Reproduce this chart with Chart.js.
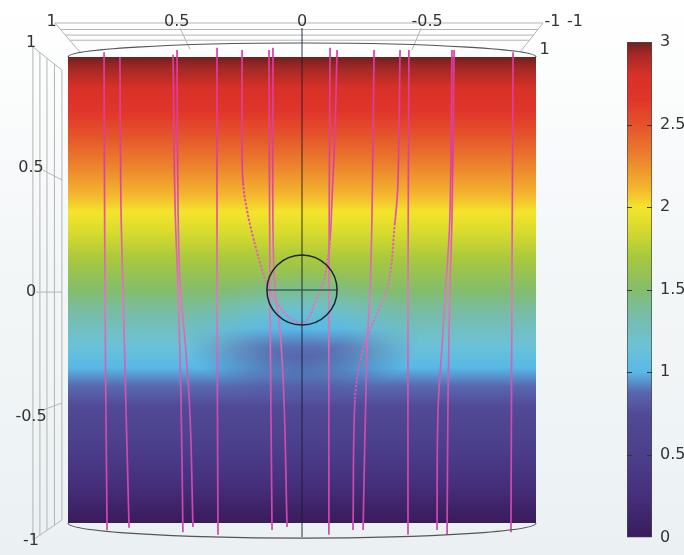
<!DOCTYPE html>
<html>
<head>
<meta charset="utf-8">
<script src="https://cdn.jsdelivr.net/npm/chart.js@4.4.1/dist/chart.umd.min.js"></script>
<style>
  html, body { margin: 0; padding: 0; }
  body {
    width: 684px; height: 555px; position: relative; overflow: hidden;
    background: linear-gradient(180deg, #ffffff 0%, #f4f7f8 45%, #ebf1f3 100%);
  }
  #main { position: absolute; left: 0; top: 0; }
  #bar { position: absolute; left: 600px; top: 0; }
</style>
</head>
<body>
<canvas id="main" width="684" height="555"></canvas>
<canvas id="bar" width="84" height="555"></canvas>
<script>
// ---- colour scale (value -> colour) ----
const scaleValues = [0, 0.25, 0.5, 0.75, 0.88, 1.0, 1.15, 1.35, 1.5, 1.7, 1.88, 2.0, 2.12, 2.3, 2.5, 2.65, 2.8, 2.92, 3.0];
const scaleColors = ['#3a1b5c', '#452f7c', '#4b3f8b', '#514a96', '#5868b0', '#58b8e6', '#6cc2d6', '#78bca8',
                     '#84bd6c', '#a9c83c', '#dadc2c', '#f4e42c', '#f3b42e', '#ec822e', '#e5522b', '#e0352a',
                     '#d73128', '#a82826', '#6e2220'];
const colorbarTicks = [0, 0.5, 1, 1.5, 2, 2.5, 3];

// value on the slice: bottom (y = -1) and top (y = 1)
const faceValueBottom = 0;
const faceValueTop = 3;
// the field sags below the sphere: depth of the dip and where it sits
const dipDepth = 0.25;
const dipCenter = [0, -0.19];
const dipRadius = [0.5, 0.28];

// axis labels
const axisTicks = [1, 0.5, 0, -0.5, -1];
const depthLabels = ['-1', '1'];

// sphere
const sphereCenter = [0, 0];
const sphereRadius = 0.15;

// ---- streamlines (x, y in model units) ----
const sl01x = [0.846, 0.842, 0.833];
const sl01y = [1.02, 0, -1.03];
const sl02x = [0.778, 0.774, 0.765, 0.739];
const sl02y = [1.0, 0.386, 0, -1.02];
const sl03x = [0.551, 0.543, 0.530, 0.517, 0.509];
const sl03y = [1.01, 0.386, 0, -0.472, -1.04];
const sl04x = [0.534, 0.530, 0.521, 0.500, 0.479, 0.466];
const sl04y = [1.03, 0.386, 0.021, -0.215, -0.528, -1.017];
const sl05x = [0.363, 0.363, 0.359];
const sl05y = [1.04, 0, -1.05];
const sl06x = [0.256, 0.256, 0.252, 0.235, 0.209, 0.179, 0.150, 0.094, 0.017, -0.021, -0.056, -0.090, -0.107, -0.120, -0.128, -0.141, -0.150];
const sl06y = [1.03, 0.601, 0.459, 0.343, 0.227, 0.116, 0.030, -0.073, -0.142, -0.129, -0.052, 0.030, 0.116, 0.215, 0.386, 0.687, 1.03];
const sl07x = [0.141, 0.137, 0.128];
const sl07y = [1.03, 0, -1.03];
const sl08x = [0.124, 0.124, 0.115, 0.094, 0.077, 0.064];
const sl08y = [1.04, 0.258, 0, -0.172, -0.472, -1.017];
const sl09x = [-0.120, -0.115, -0.115];
const sl09y = [1.04, 0, -1.05];
const sl10x = [-0.308, -0.299, -0.291, -0.278, -0.261];
const sl10y = [1.03, 0.313, 0, -0.245, -1.03];
const sl11x = [-0.419, -0.410, -0.397, -0.368, -0.321, -0.278, -0.248, -0.226, -0.218];
const sl11y = [1.03, 0.459, 0.288, 0.021, -0.099, -0.202, -0.313, -0.472, -1.03];
const sl12x = [-0.457, -0.453, -0.453];
const sl12y = [1.03, 0, -1.05];
const sl13x = [-0.641, -0.632, -0.615, -0.598, -0.581, -0.577];
const sl13y = [1.03, 0.313, 0.021, -0.245, -0.528, -1.03];
const sl14x = [-0.650, -0.641, -0.632, -0.624, -0.620];
const sl14y = [1.03, 0.313, 0, -0.472, -1.05];
const sl15x = [-0.902, -0.897, -0.893];
const sl15y = [1.02, 0, -1.04];

// [xs, ys, first dotted segment, last dotted segment]
const streamlines = [
  [sl01x, sl01y], [sl02x, sl02y], [sl03x, sl03y], [sl04x, sl04y], [sl05x, sl05y],
  [sl06x, sl06y, 2, 13], [sl07x, sl07y], [sl08x, sl08y], [sl09x, sl09y], [sl10x, sl10y],
  [sl11x, sl11y, 2, 7], [sl12x, sl12y], [sl13x, sl13y], [sl14x, sl14y], [sl15x, sl15y]
];

const FONT = '16px "DejaVu Sans", sans-serif';
const TEXT = '#333333';

// gradient along a pixel segment following the colour scale
function scaleGradient(ctx, yBottom, yTop, vBottom, vTop) {
  const g = ctx.createLinearGradient(0, yBottom, 0, yTop);
  scaleValues.forEach((v, i) => {
    const t = (v - vBottom) / (vTop - vBottom);
    if (t >= 0 && t <= 1) g.addColorStop(t, scaleColors[i]);
  });
  return g;
}

function toPoints(xs, ys) {
  return xs.map((x, i) => ({ x: x, y: ys[i] }));
}

// streamline tint: strong magenta, paler where it crosses the middle band
function lineColor(context) {
  const chart = context.chart;
  const area = chart.chartArea;
  if (!area) return '#d9469f';
  const sy = chart.scales.y;
  const g = chart.ctx.createLinearGradient(0, sy.getPixelForValue(1.05), 0, sy.getPixelForValue(-1.05));
  g.addColorStop(0.0, '#dc3c9c');
  g.addColorStop(0.25, '#dc409e');
  g.addColorStop(0.38, '#de5eae');
  g.addColorStop(0.52, '#e07abc');
  g.addColorStop(0.64, '#d464b4');
  g.addColorStop(0.75, '#cc4cac');
  g.addColorStop(1.0, '#cc48ac');
  return g;
}

// ---- decoration: box frame, end caps, labels, field dip around the sphere ----
const framePlugin = {
  id: 'frame',
  beforeDatasetsDraw(chart) {
    const { ctx, scales: { x: sx, y: sy } } = chart;
    const P = (x, y) => [sx.getPixelForValue(x), sy.getPixelForValue(y)];
    ctx.save();
    ctx.strokeStyle = '#b4b4b4';
    ctx.lineWidth = 1;
    // top box (back wall seen from above)
    const lt = [1.056, 1.146], lb = [0.949, 1.021], rt = [-1.03, 1.146], rb = [-0.932, 1.021];
    const seg = (a, b) => { const p = P(a[0], a[1]), q = P(b[0], b[1]); ctx.beginPath(); ctx.moveTo(p[0], p[1]); ctx.lineTo(q[0], q[1]); ctx.stroke(); };
    seg(lt, lb); seg(rt, rb);
    [1.146, 1.118, 1.094, 1.072].forEach(yy => {
      const t = (lt[1] - yy) / (lt[1] - lb[1]);
      const xl = lt[0] + (lb[0] - lt[0]) * t;
      const xr = rt[0] + (rb[0] - rt[0]) * t;
      seg([xl, yy], [xr, yy]);
    });
    seg([0.521, 1.124], [0.479, 1.034]);
    seg([-0.509, 1.124], [-0.470, 1.030]);
    // left wall
    const tl = [1.150, 1.043], tr = [1.026, 0.944], bl = [1.150, -1.073], br = [1.026, -0.987];
    seg(tl, tr); seg(bl, br);
    [1.150, 1.120, 1.090, 1.058, 1.026].forEach(xx => {
      const t = (tl[0] - xx) / (tl[0] - tr[0]);
      seg([xx, tl[1] + (tr[1] - tl[1]) * t], [xx, bl[1] + (br[1] - bl[1]) * t]);
    });
    seg([1.107, 0.515], [1.026, 0.472]);
    seg([1.137, -0.009], [1.026, -0.009]);
    seg([1.107, -0.515], [1.026, -0.485]);
    // top cap (back half)
    const c = P(0, 1);
    const rx = Math.abs(sx.getPixelForValue(1) - sx.getPixelForValue(0));
    const ry = Math.abs(sy.getPixelForValue(1) - sy.getPixelForValue(1.06));
    ctx.strokeStyle = '#555';
    ctx.lineWidth = 1.2;
    ctx.beginPath();
    ctx.ellipse(c[0], c[1], rx, ry, 0, Math.PI, 2 * Math.PI);
    ctx.stroke();
    ctx.restore();
  },
  afterDatasetDraw(chart, args) {
    if (args.index !== 0) return;
    const { ctx, chartArea: a, scales: { x: sx, y: sy } } = chart;
    // the same colour ramp, lowered by dipDepth, faded in around the sphere
    const off = document.createElement('canvas');
    off.width = chart.width;
    off.height = chart.height;
    const o = off.getContext('2d');
    o.fillStyle = scaleGradient(o, sy.getPixelForValue(-1), sy.getPixelForValue(1),
                                faceValueBottom - dipDepth, faceValueTop - dipDepth);
    o.fillRect(a.left, a.top, a.right - a.left, a.bottom - a.top);
    const cx = sx.getPixelForValue(dipCenter[0]), cy = sy.getPixelForValue(dipCenter[1]);
    const rx = Math.abs(sx.getPixelForValue(dipCenter[0] + dipRadius[0]) - cx);
    const ry = Math.abs(sy.getPixelForValue(dipCenter[1] + dipRadius[1]) - cy);
    o.globalCompositeOperation = 'destination-in';
    o.save();
    o.translate(cx, cy);
    o.scale(1, ry / rx);
    const m = o.createRadialGradient(0, 0, 0, 0, 0, rx);
    m.addColorStop(0, 'rgba(0,0,0,1)');
    m.addColorStop(0.35, 'rgba(0,0,0,0.85)');
    m.addColorStop(0.7, 'rgba(0,0,0,0.35)');
    m.addColorStop(1, 'rgba(0,0,0,0)');
    o.fillStyle = m;
    o.fillRect(-rx * 1.2, -rx * 1.2, rx * 2.4, rx * 2.4);
    o.restore();
    // everything outside the ellipse's box goes transparent too
    o.clearRect(0, 0, off.width, cy - ry);
    o.clearRect(0, cy + ry, off.width, off.height);
    ctx.save();
    ctx.beginPath();
    ctx.rect(a.left, a.top, a.right - a.left, a.bottom - a.top);
    ctx.clip();
    ctx.drawImage(off, 0, 0);
    ctx.restore();
  },
  afterDatasetsDraw(chart) {
    const { ctx, scales: { x: sx, y: sy } } = chart;
    const P = (x, y) => [sx.getPixelForValue(x), sy.getPixelForValue(y)];
    ctx.save();
    // bottom cap (front half)
    const c = P(0, -1);
    const rx = Math.abs(sx.getPixelForValue(1) - sx.getPixelForValue(0));
    const ry = Math.abs(sy.getPixelForValue(-1) - sy.getPixelForValue(-1.065));
    ctx.strokeStyle = '#555';
    ctx.lineWidth = 1.2;
    ctx.beginPath();
    ctx.ellipse(c[0], c[1], rx, ry, 0, 0, Math.PI);
    ctx.stroke();
    // labels
    ctx.font = FONT;
    ctx.fillStyle = TEXT;
    ctx.textAlign = 'center';
    ctx.textBaseline = 'middle';
    axisTicks.forEach(v => {
      const p = P(v * 1.07, 1.15);
      ctx.fillText(String(v), p[0], p[1]);
    });
    let p = P(-1.167, 1.15);
    ctx.fillText(depthLabels[0], p[0], p[1]);
    p = P(-1.02, 1.03);
    ctx.fillText(depthLabels[1], p[0] + 4, p[1]);
    axisTicks.forEach(v => {
      const q = P(1.158, v * 1.07);
      ctx.fillText(String(v), q[0], q[1] + 2);
    });
    ctx.restore();
  }
};

const datasets = [];
// the coloured slice
datasets.push({
  data: [{ x: 1, y: 1 }, { x: -1, y: 1 }],
  showLine: true,
  borderWidth: 0,
  pointRadius: 0,
  fill: { value: -1 },
  order: 20,
  backgroundColor: (context) => {
    const chart = context.chart;
    if (!chart.chartArea) return '#888';
    const sy = chart.scales.y;
    return scaleGradient(chart.ctx, sy.getPixelForValue(-1), sy.getPixelForValue(1), faceValueBottom, faceValueTop);
  }
});
// streamlines
streamlines.forEach(([xs, ys, d0, d1]) => {
  datasets.push({
    data: toPoints(xs, ys),
    showLine: true,
    pointRadius: 0,
    borderWidth: 1.7,
    borderColor: lineColor,
    tension: 0.4,
    fill: false,
    clip: false,
    order: 10,
    segment: {
      borderDash: (s) => (d0 !== undefined && s.p0DataIndex >= d0 && s.p0DataIndex < d1) ? [2.5, 1.5] : undefined,
      borderWidth: (s) => (d0 !== undefined && s.p0DataIndex >= d0 && s.p0DataIndex < d1) ? 2 : undefined
    }
  });
});
// vertical axis through the centre
datasets.push({
  data: [{ x: 0, y: 1.124 }, { x: 0, y: -1.06 }],
  showLine: true, pointRadius: 0, borderWidth: 1.2,
  borderColor: 'rgba(25,30,45,0.75)', clip: false, order: 5
});
// equator of the sphere
datasets.push({
  data: [{ x: sphereCenter[0] + sphereRadius, y: 0 }, { x: sphereCenter[0] - sphereRadius, y: 0 }],
  showLine: true, pointRadius: 0, borderWidth: 1.3,
  borderColor: 'rgba(30,80,90,0.8)', order: 4
});
// sphere outline
datasets.push({
  data: [{ x: sphereCenter[0], y: sphereCenter[1] }],
  showLine: false,
  pointStyle: 'circle',
  backgroundColor: 'rgba(0,0,0,0)',
  borderColor: '#1b2433',
  borderWidth: 1.5,
  pointRadius: (context) => {
    const sx = context.chart.scales.x;
    if (!sx) return 30;
    return Math.abs(sx.getPixelForValue(sphereRadius) - sx.getPixelForValue(0));
  },
  order: 1
});

new Chart(document.getElementById('main'), {
  type: 'scatter',
  data: { datasets },
  options: {
    responsive: false,
    animation: false,
    devicePixelRatio: 1,
    events: [],
    layout: { padding: { left: 68, right: 148, top: 57, bottom: 32 } },
    plugins: { legend: { display: false }, tooltip: { enabled: false } },
    scales: {
      x: { type: 'linear', min: -1, max: 1, reverse: true, display: false },
      y: { type: 'linear', min: -1, max: 1, display: false }
    }
  },
  plugins: [framePlugin]
});

// ---- colour bar ----
const colorbarMarks = {
  id: 'colorbarMarks',
  afterDatasetsDraw(chart) {
    const { ctx, chartArea: a, scales: { y } } = chart;
    ctx.save();
    ctx.strokeStyle = '#333';
    ctx.lineWidth = 1.2;
    colorbarTicks.forEach(v => {
      if (v === 0 || v === 3) return;
      const py = Math.round(y.getPixelForValue(v)) + 0.5;
      ctx.beginPath();
      ctx.moveTo(a.left, py); ctx.lineTo(a.left + 5, py);
      ctx.moveTo(a.right - 5, py); ctx.lineTo(a.right, py);
      ctx.stroke();
    });
    ctx.restore();
  }
};

new Chart(document.getElementById('bar'), {
  type: 'bar',
  data: {
    labels: [''],
    datasets: [{
      data: [[0, 3]],
      barPercentage: 1,
      categoryPercentage: 1,
      borderColor: '#4a4a4a',
      borderWidth: 1,
      borderSkipped: false,
      backgroundColor: (context) => {
        const chart = context.chart;
        if (!chart.chartArea) return '#888';
        const y = chart.scales.y;
        return scaleGradient(chart.ctx, y.getPixelForValue(0), y.getPixelForValue(3), 0, 3);
      }
    }]
  },
  options: {
    responsive: false,
    animation: false,
    devicePixelRatio: 1,
    events: [],
    layout: { padding: { left: 27, right: 0, top: 42, bottom: 15 } },
    plugins: { legend: { display: false }, tooltip: { enabled: false } },
    scales: {
      x: { display: false },
      y: {
        position: 'right', min: 0, max: 3,
        afterFit: (s) => { s.width = 32; },
        border: { display: false },
        grid: { display: false, drawTicks: false },
        afterBuildTicks: (s) => { s.ticks = colorbarTicks.map(v => ({ value: v })); },
        ticks: { padding: 8, color: TEXT, font: { family: 'DejaVu Sans', size: 16 }, callback: (v) => String(v) }
      }
    }
  },
  plugins: [colorbarMarks]
});
</script>
</body>
</html>
